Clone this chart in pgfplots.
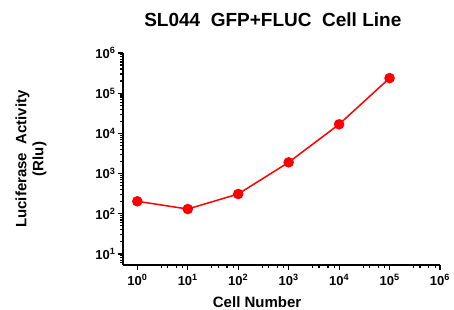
\documentclass[border=0pt]{standalone}
\usepackage{pgfplots}
\pgfplotsset{compat=1.18}
\usepackage{fontspec}
\setmainfont{Liberation Sans}
\begin{document}
\begin{tikzpicture}
\useasboundingbox (-123pt,-44pt) rectangle (331pt,265pt);
\begin{axis}[
  at={(0pt,0pt)}, anchor=south west,
  scale only axis, width=317pt, height=212pt,
  xmode=log, ymode=log,
  xmin=0.52, xmax=1e6, ymin=5.3, ymax=1e6,
  axis x line*=bottom, axis y line*=left,
  axis line style={line width=1.5pt, black},
  major tick style={black, line width=1.2pt},
  minor tick style={black, line width=1.2pt},
  tick align=outside,
  major tick length=5pt, minor tick length=3pt,
  minor xtick={3,4,6,8,30,40,60,80,300,400,600,800,3000,4000,6000,8000,3e4,4e4,6e4,8e4,3e5,4e5,6e5,8e5},
  xticklabel={\pgfmathparse{int(round(\tick/ln(10)))}10\textsuperscript{\pgfmathresult}},
  yticklabel={\pgfmathparse{int(round(\tick/ln(10)))}10\textsuperscript{\pgfmathresult}},
  ticklabel style={font=\bfseries\fontsize{13}{15}\selectfont},
  xticklabel style={yshift=-1pt},
  yticklabel style={xshift=1pt},
  title={SL044\ \ GFP+FLUC\ \ Cell Line},
  title style={at={(0.5,1)}, anchor=base, yshift=21pt, xshift=-8.7pt, inner sep=0pt, font=\bfseries\fontsize{19}{22}\selectfont},
  xlabel={Cell Number},
  xlabel style={at={(axis description cs:0.423,0)}, anchor=north, yshift=-31pt, inner sep=0pt, font=\bfseries\fontsize{15}{17}\selectfont},
  ylabel={Luciferase\ \ Activity\\(Rlu)},
  ylabel style={at={(axis description cs:-0.29,0.5)}, anchor=center, align=center, font=\bfseries\fontsize{15}{17}\selectfont},
  clip=false,
]
\addplot[color=red, line width=1.5pt, mark=*, mark size=4.5pt, mark options={solid, fill=red}]
  coordinates {(1,204) (10,131) (100,310) (1000,1900) (10000,16800) (100000,237000)};
\end{axis}
\end{tikzpicture}
\end{document}
